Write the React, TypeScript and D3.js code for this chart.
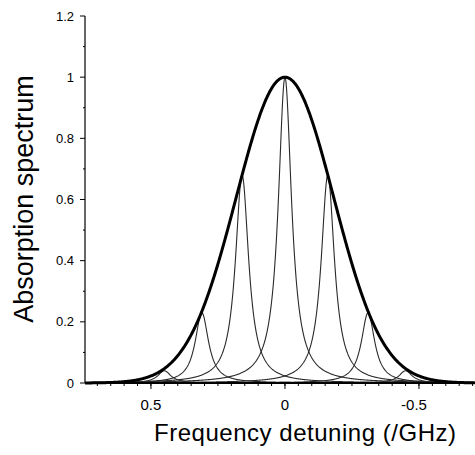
import { scaleLinear, line, range } from "d3";

// line positions (GHz) and peak heights
const lineCenters = [0.45, 0.31, 0.16, 0, -0.16, -0.31, -0.45];
const lineHeights = [0.04, 0.23, 0.68, 1.0, 0.68, 0.23, 0.04];
const lineHalfWidth = 0.03;

// Doppler envelope: peak height, centre, gaussian sigma
const envelopeHeight = 1.0;
const envelopeCenter = 0;
const envelopeSigma = 0.182;

const yTicks = [0, 0.2, 0.4, 0.6, 0.8, 1, 1.2];
const xTicks = [0.5, 0, -0.5];

const App = () => {
  const width = 475;
  const height = 455;

  const x = scaleLinear().domain([0.746, -0.709]).range([85, 475]);
  const y = scaleLinear().domain([0, 1.2]).range([383, 16]);

  const samples = range(0.746, -0.71, -0.002);

  const curve = line<number[]>()
    .x((d) => x(d[0]))
    .y((d) => y(d[1]));

  const lorentz = (c: number, h: number) =>
    samples.map((f) => [f, h / (1 + ((f - c) / lineHalfWidth) ** 2)]);

  const envelope = samples.map((f) => [
    f,
    envelopeHeight * Math.exp(-((f - envelopeCenter) ** 2) / (2 * envelopeSigma ** 2)),
  ]);

  const xMinor = range(0.7, -0.71, -0.05);
  const yMinor = range(0.1, 1.2, 0.2);

  return (
    <svg
      width={width}
      height={height}
      style={{ position: "absolute", left: 0, top: 0, background: "#fff" }}
      fontFamily="Liberation Sans, Arial, sans-serif"
    >
      {lineCenters.map((c, i) => (
        <path
          key={i}
          d={curve(lorentz(c, lineHeights[i])) ?? ""}
          fill="none"
          stroke="#2a2a2a"
          strokeWidth={1.1}
        />
      ))}
      <path d={curve(envelope) ?? ""} fill="none" stroke="#000" strokeWidth={3} />

      {/* y axis */}
      <line x1={85} x2={85} y1={y(1.2)} y2={y(0)} stroke="#000" strokeWidth={1.2} />
      {yTicks.map((t) => (
        <g key={t}>
          <line x1={80} x2={85} y1={y(t)} y2={y(t)} stroke="#000" />
          <text x={74} y={y(t)} dy="0.35em" textAnchor="end" fontSize={13}>
            {t === 0 || t === 1 ? String(t) : t.toFixed(1)}
          </text>
        </g>
      ))}
      {yMinor.map((t) => (
        <line key={t} x1={83} x2={85} y1={y(t)} y2={y(t)} stroke="#000" />
      ))}

      {/* x axis */}
      <line x1={85} x2={475} y1={y(0)} y2={y(0)} stroke="#000" strokeWidth={2} />
      {xMinor.map((t) => (
        <line key={t} x1={x(t)} x2={x(t)} y1={y(0)} y2={y(0) + 3} stroke="#000" />
      ))}
      {xTicks.map((t) => (
        <g key={t}>
          <line x1={x(t)} x2={x(t)} y1={y(0)} y2={y(0) + 6} stroke="#000" />
          <text x={x(t) - (t < 0 ? 5 : 0)} y={410} textAnchor="middle" fontSize={15}>
            {t === 0 ? "0" : t > 0 ? t.toFixed(1) : "-" + Math.abs(t).toFixed(1)}
          </text>
        </g>
      ))}

      <text x={305} y={441} textAnchor="middle" fontSize={24} textLength={302}>
        Frequency detuning (/GHz)
      </text>
      <text transform="translate(33,199) rotate(-90)" textAnchor="middle" fontSize={27}>
        Absorption spectrum
      </text>
    </svg>
  );
};

export default App;
